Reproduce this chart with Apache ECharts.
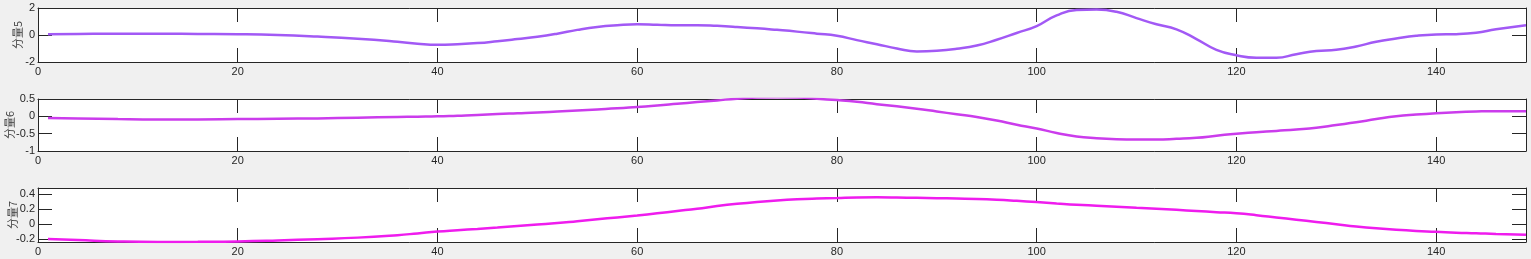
<!DOCTYPE html>
<html>
<head>
<meta charset="utf-8">
<script src="https://cdn.jsdelivr.net/npm/echarts@6/dist/echarts.min.js"></script>
<style>
html,body{margin:0;padding:0;background:#f0f0f0;}
#c{width:1531px;height:259px;}
</style>
</head>
<body>
<div id="c"></div>
<script>
// sample positions (shared)
const xPos = [1,4,8,12,16,20,24,28,32,36,38,40,42,44,46,48,50,52,54,56,58,60,62,64,66,68,70,72,74,76,78,80,82,84,86,88,90,92,94,96,98,100,102,104,106,108,110,112,114,116,118,120,122,124,126,128,130,132,134,136,138,140,142,144,146,149];

const comp5 = [0.06,0.08,0.10,0.10,0.08,0.06,0.00,-0.12,-0.28,-0.50,-0.64,-0.72,-0.68,-0.60,-0.46,-0.30,-0.13,0.10,0.38,0.60,0.73,0.80,0.76,0.72,0.73,0.68,0.60,0.50,0.38,0.25,0.10,-0.06,-0.38,-0.68,-1.00,-1.22,-1.17,-1.02,-0.78,-0.35,0.15,0.66,1.45,1.85,1.88,1.72,1.25,0.80,0.42,-0.30,-1.10,-1.50,-1.68,-1.68,-1.42,-1.18,-1.10,-0.85,-0.50,-0.26,-0.06,0.04,0.06,0.16,0.42,0.72];

const comp6 = [-0.045,-0.06,-0.08,-0.09,-0.09,-0.08,-0.07,-0.06,-0.04,-0.02,-0.01,0.00,0.02,0.04,0.07,0.09,0.11,0.14,0.17,0.20,0.23,0.27,0.31,0.36,0.41,0.46,0.51,0.54,0.55,0.54,0.51,0.47,0.42,0.35,0.29,0.22,0.14,0.06,-0.02,-0.12,-0.24,-0.35,-0.48,-0.58,-0.63,-0.66,-0.67,-0.67,-0.65,-0.62,-0.56,-0.50,-0.46,-0.42,-0.38,-0.33,-0.25,-0.17,-0.08,0.00,0.05,0.09,0.12,0.14,0.15,0.15];

const comp7 = [-0.196,-0.21,-0.228,-0.235,-0.233,-0.228,-0.215,-0.198,-0.178,-0.145,-0.122,-0.098,-0.08,-0.063,-0.045,-0.025,-0.005,0.015,0.04,0.065,0.09,0.116,0.145,0.175,0.205,0.24,0.27,0.295,0.315,0.33,0.34,0.347,0.354,0.356,0.354,0.35,0.345,0.34,0.335,0.325,0.31,0.293,0.275,0.258,0.245,0.232,0.218,0.205,0.19,0.175,0.16,0.145,0.12,0.09,0.06,0.03,0.0,-0.03,-0.055,-0.075,-0.09,-0.10,-0.112,-0.12,-0.13,-0.14];

const xTicks = [0,20,40,60,80,100,120,140];
const yTicks5 = [-2,0,2];
const yTicks6 = [-1,-0.5,0,0.5];
const yTicks7 = [-0.2,0,0.2,0.4];
const names = ['分量5','分量6','分量7'];
const colors = ['#a259f5','#cb3cec','#ef1cee'];

const panels = [
  {top:8, height:54, ymin:-2, ymax:2, ticks:yTicks5, data:comp5, gap:15},
  {top:99, height:52, ymin:-1, ymax:0.5, ticks:yTicks6, data:comp6, gap:23},
  {top:188, height:54, ymin:-0.236, ymax:0.48, ticks:yTicks7, data:comp7, gap:20}
];

const axisCol = '#262626';
const font = '"Liberation Sans", Arial, Helvetica, sans-serif';
const grid = [], xAxis = [], yAxis = [], series = [];
panels.forEach((p, i) => {
  grid.push({left:38, right:5, top:p.top, height:p.height, show:true, backgroundColor:'#ffffff', borderWidth:0,
    containLabel:false, outerBoundsMode:'none'});
  const line = {show:true, onZero:false, lineStyle:{color:axisCol, width:1}};
  const tick = (vals) => ({show:true, inside:true, length:14, customValues:vals, lineStyle:{color:axisCol, width:1}});
  xAxis.push({type:'value', gridIndex:i, position:'bottom', min:0, max:149,
    axisLine:line, axisTick:tick(xTicks), splitLine:{show:false},
    axisLabel:{show:true, customValues:xTicks, margin:4, fontSize:11, color:axisCol, fontFamily:font}});
  xAxis.push({type:'value', gridIndex:i, position:'top', min:0, max:149,
    axisLine:line, axisTick:tick(xTicks), splitLine:{show:false}, axisLabel:{show:false}});
  yAxis.push({type:'value', gridIndex:i, position:'left', min:p.ymin, max:p.ymax,
    axisLine:line, axisTick:tick(p.ticks), splitLine:{show:false},
    axisLabel:{show:true, customValues:p.ticks, margin:3, fontSize:11, color:axisCol, fontFamily:font},
    name:names[i], nameLocation:'middle', nameGap:p.gap, nameRotate:90, nameMoveOverlap:false,
    nameTextStyle:{fontSize:11, color:'#404040', fontFamily:'"Noto Sans CJK SC", sans-serif'}});
  yAxis.push({type:'value', gridIndex:i, position:'right', min:p.ymin, max:p.ymax,
    axisLine:line, axisTick:tick(p.ticks), splitLine:{show:false}, axisLabel:{show:false}});
  series.push({type:'line', xAxisIndex:2*i, yAxisIndex:2*i, showSymbol:false, smooth:true,
    lineStyle:{color:colors[i], width:2.5}, itemStyle:{color:colors[i]},
    data:xPos.map((x, k) => [x, p.data[k]])});
});

const chart = echarts.init(document.getElementById('c'), null, {renderer:'canvas'});
chart.setOption({backgroundColor:'#f0f0f0', animation:false, grid, xAxis, yAxis, series});
</script>
</body>
</html>
